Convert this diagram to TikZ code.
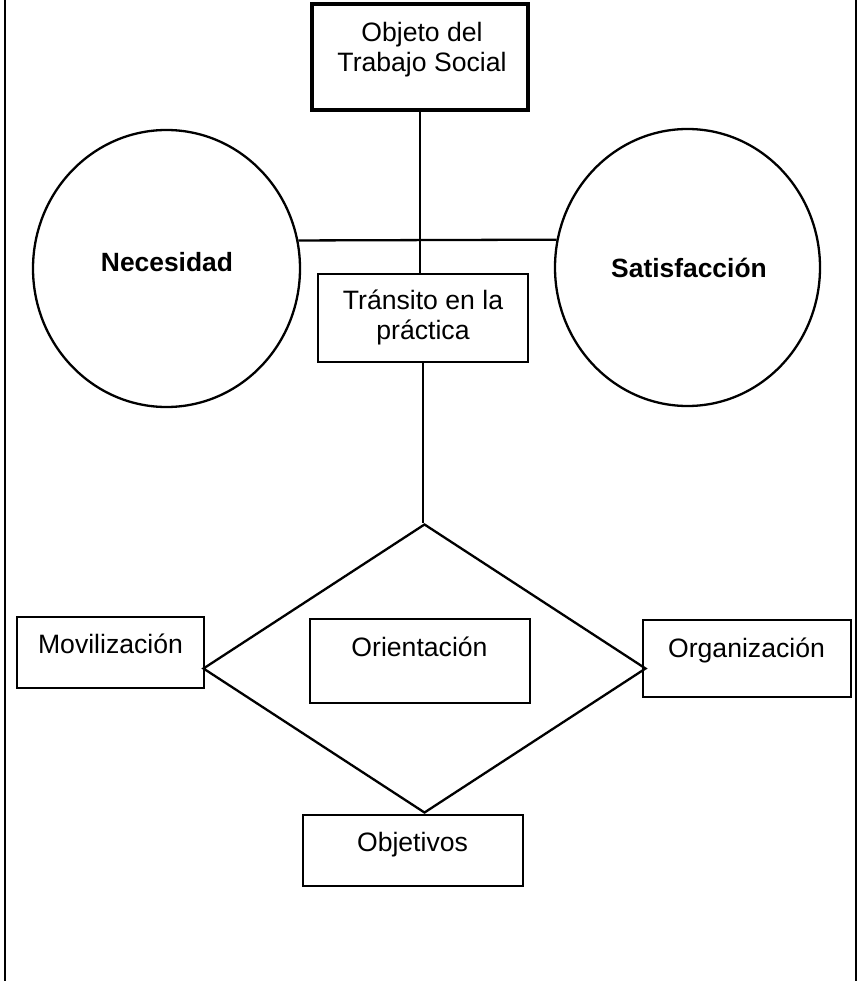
\documentclass[tikz,border=0pt]{standalone}
\usepackage{fontspec}
\setmainfont{Liberation Sans}
\usetikzlibrary{shapes.geometric}
\begin{document}
\begin{tikzpicture}[x=1pt,y=-1pt,
  box/.style={draw,line width=2.3pt,inner sep=0pt,rectangle},
  ring/.style={draw,ellipse,line width=2.3pt,inner sep=0pt},
  txt/.style={inner sep=0pt,anchor=base,align=center,font=\fontsize{26.6}{30}\selectfont},
  btxt/.style={txt,font=\fontsize{26.4}{30}\selectfont\bfseries},
  link/.style={line width=2.3pt}]
\useasboundingbox (0,0) rectangle (859,981);
% frame sides
\draw[line width=2.5pt] (5,0) -- (5,981);
\draw[line width=2.5pt] (856,0) -- (856,981);
% shapes
\node[box,line width=3.3pt,minimum width=216,minimum height=106] (obj) at (420,57) {};
\node[box,minimum width=210,minimum height=88] (tr) at (423,318) {};
\node[ring,minimum width=267,minimum height=277] (nec) at (166.5,268.5) {};
\node[ring,minimum width=265,minimum height=277] (sat) at (687.5,267.5) {};
\node[draw,diamond,line width=2.3pt,inner sep=0pt,minimum width=443,minimum height=289] (dia) at (424.5,668.5) {};
\node[box,minimum width=220,minimum height=84] (ori) at (420,661) {};
\node[box,minimum width=187,minimum height=71] (mov) at (110.5,652.5) {};
\node[box,minimum width=208,minimum height=77] (org) at (747,658.5) {};
\node[box,minimum width=220,minimum height=71] (objv) at (413,850.5) {};
% texts
\node[txt] (objT1) at (422,42) {Objeto del};
\node[txt] (objT2) at (422,72) {Trabajo Social};
\node[txt] (trT1) at (423,309) {Tránsito en la};
\node[txt] (trT2) at (423,339) {práctica};
\node[btxt] (necT) at (167,272) {Necesidad};
\node[btxt] (satT) at (689,277) {Satisfacción};
\node[txt] (oriT) at (419.5,656) {Orientación};
\node[txt] (movT) at (110.5,653) {Movilización};
\node[txt] (orgT) at (746.5,657) {Organización};
\node[txt] (objvT) at (412.5,851) {Objetivos};
% connectors
\draw[link] (obj.south) -- (obj.south |- tr.north);
\draw[link] (nec.12) -- (sat.168);
\draw[link] (tr.south) -- (tr.south |- dia.north);
\end{tikzpicture}
\end{document}
